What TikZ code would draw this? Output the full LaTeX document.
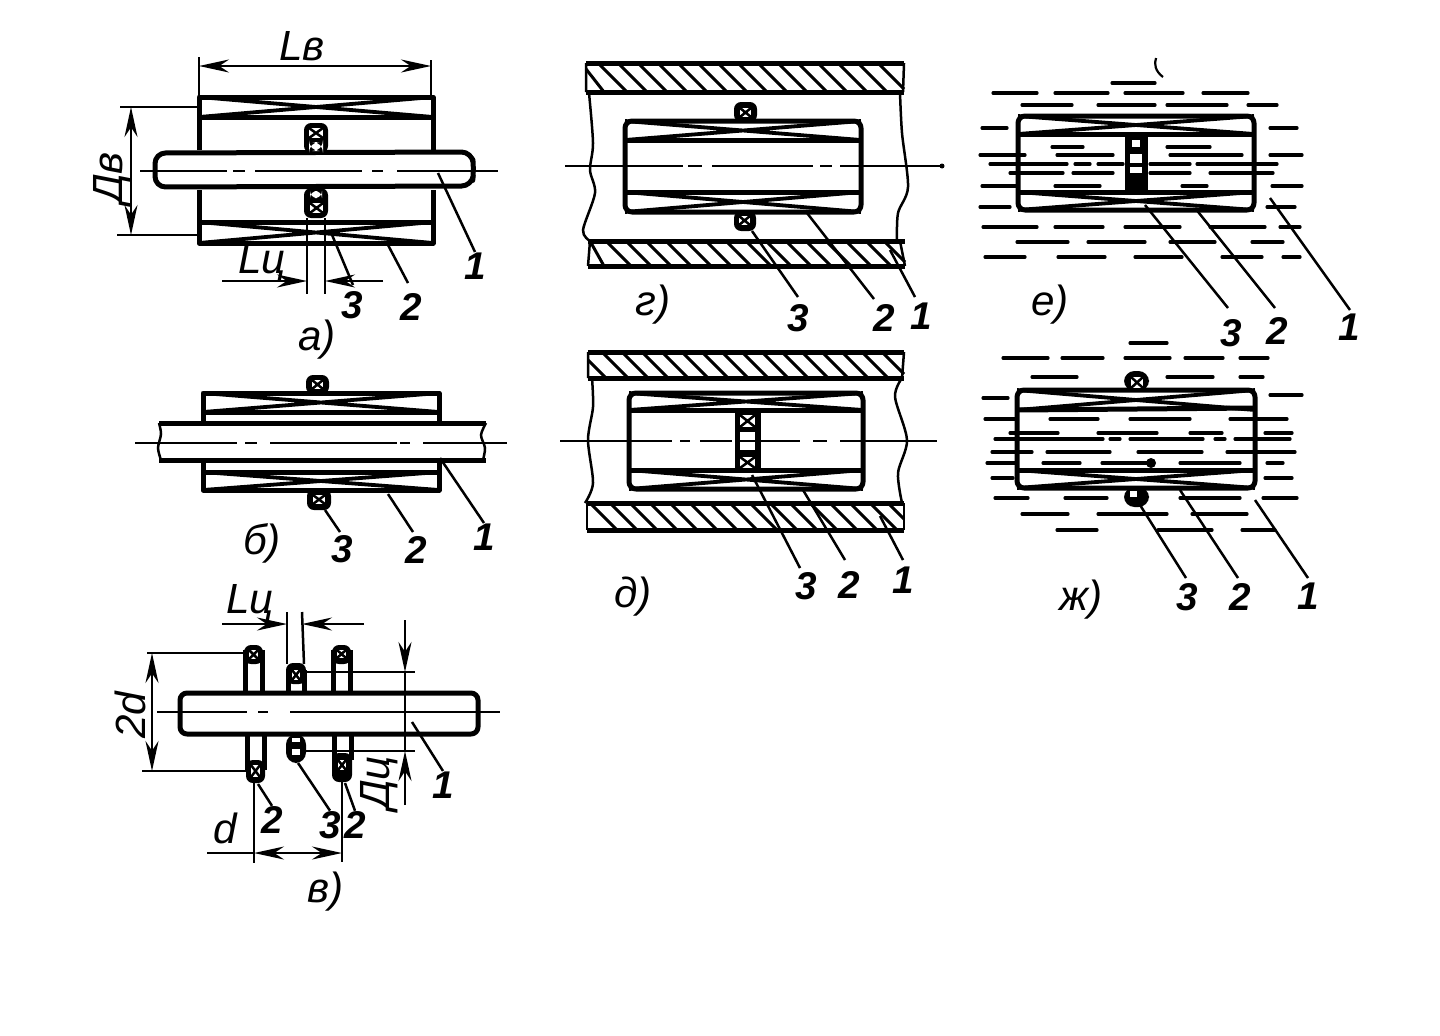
\documentclass[tikz,border=0pt]{standalone}
\usepackage{fontspec}
\setmainfont{Liberation Sans}
\usetikzlibrary{arrows.meta}

\begin{document}
\begin{tikzpicture}[x=0.1mm,y=-0.1mm]
\tikzstyle{every node}+=[inner sep=0pt]
\tikzstyle{wall}=[black,line width=0.5mm,line join=round]
\tikzstyle{coil}=[black,line width=0.38mm]
\tikzstyle{fine}=[black,line width=0.25mm]
\tikzstyle{axis}=[black,line width=0.22mm]
\tikzstyle{fluid}=[black,line width=0.32mm,line cap=round]
\tikzstyle{hatch}=[black,line width=0.3mm]
\tikzstyle{dim}=[black,line width=0.25mm,>={Stealth[length=3mm,width=1.3mm]}]
\tikzstyle{lab}=[font=\fontsize{11}{11}\selectfont\bfseries\itshape]
\tikzstyle{size}=[font=\fontsize{12}{12}\selectfont\itshape]
\tikzstyle{captn}=[font=\fontsize{12}{12}\selectfont\itshape]
\useasboundingbox (0,0) rectangle (1440,1035);
\fill [white] (0,0) rectangle (1440,1035);
% a
\draw [wall] (199,190) -- (199,243) -- (433,243) -- (433,190);
\draw [wall] (199,150) -- (199,97) -- (433,97) -- (433,150);
\draw [wall] (199,117) -- (433,117);
\draw [wall] (199,222) -- (433,222);
\draw [coil] (199,97) -- (433,117) (199,117) -- (433,97);
\draw [coil] (199,222) -- (433,243) (199,243) -- (433,222);
\draw [wall,rounded corners=3] (155,153) -- (472,152) -- (474,170) -- (472,186) -- (155,187) -- cycle;
\draw [axis] (140,171) -- (227,171) (233,171) -- (245,171) (255,171) -- (362,171) (372,171) -- (383,171) (397,171) -- (498,171);
\fill [black,rounded corners=2] (304,123) rectangle (328,153);
\fill [white] (309,128) rectangle (323,138);
\draw [fine] (309,128) -- (323,138) (309,138) -- (323,128);
\fill [white,rounded corners=3] (309,142) rectangle (323,151);
\fill [black,rounded corners=2] (304,188) rectangle (328,218);
\fill [white,rounded corners=2] (310,191) rectangle (322,198);
\fill [white] (310,203) rectangle (323,213);
\draw [fine] (310,203) -- (323,213) (310,213) -- (323,203);
\draw [fine] (199,57) -- (199,97);
\draw [fine] (431,60) -- (431,97);
\draw [dim,<->] (199,66) -- (431,66);
\node [size] (lbdim) at (302,46) {Lв};
\draw [fine] (120,107) -- (197,107);
\draw [fine] (117,235) -- (197,235);
\draw [dim,<->] (131,107) -- (131,235);
\node [size,rotate=90] (dbdim) at (112,178) {Дв};
\draw [fine] (307,218) -- (307,294);
\draw [fine] (325,218) -- (325,294);
\draw [dim,->] (222,281) -- (307,281);
\draw [dim,->] (383,281) -- (325,281);
\node [size] (lcdim) at (262,263) {Lц};
\node [lab] (a1) at (475,266) {1};
\node [lab] (a2) at (411,307) {2};
\node [lab] (a3) at (352,305) {3};
\node [captn] (acap) at (317,340) {а)};
\draw [fine] (438,173) -- (a1.north);
\draw [fine] (388,245) -- (408,283);
\draw [fine] (330,230) -- (353,285);
% b
\draw [wall] (203,423) -- (203,393) -- (439,393) -- (439,423);
\draw [wall] (203,460) -- (203,490) -- (439,490) -- (439,460);
\draw [wall] (203,412) -- (439,412);
\draw [wall] (203,472) -- (439,472);
\draw [coil] (203,393) -- (439,412) (203,412) -- (439,393);
\draw [coil] (203,472) -- (439,490) (203,490) -- (439,472);
\draw [wall] (159,423) -- (486,423);
\draw [wall] (159,460) -- (486,460);
\draw [fine] plot [smooth] coordinates {(159,423) (161,434) (158,448) (161,460)};
\draw [fine] plot [smooth] coordinates {(486,423) (481,435) (485,448) (483,460)};
\draw [axis] (135,443) -- (237,443) (245,443) -- (257,443) (270,443) -- (397,443) (400,443) -- (410,443) (423,443) -- (507,443);
\fill [black,rounded corners=2] (306,375) rectangle (329,394);
\fill [white] (312,380) rectangle (323,389);
\draw [fine] (312,380) -- (323,389) (312,389) -- (323,380);
\fill [black,rounded corners=2] (307,489) rectangle (331,510);
\fill [white] (313,495) rectangle (325,504);
\draw [fine] (313,495) -- (325,504) (313,504) -- (325,495);
\node [lab] (b1) at (484,537) {1};
\node [lab] (b2) at (416,550) {2};
\node [lab] (b3) at (342,549) {3};
\node [captn] (bcap) at (262,543) {б)};
\draw [fine] (440,458) -- (b1.north);
\draw [fine] (388,494) -- (413,532);
\draw [fine] (325,510) -- (340,532);
% c
\draw [wall,rounded corners=2] (180,693) rectangle (478,734);
\draw [axis] (157,712) -- (247,712) (258,712) -- (268,712) (290,712) -- (500,712);
\draw [wall] (245,693) -- (245,650) (262,693) -- (262,650);
\fill [black,rounded corners=2] (244,645) rectangle (263,664);
\fill [white] (249,650) rectangle (258,659);
\draw [fine] (249,650) -- (258,659) (249,659) -- (258,650);
\draw [wall] (247,734) -- (247,770) (264,734) -- (264,770);
\fill [black,rounded corners=2] (246,760) rectangle (265,783);
\fill [white] (251,765) rectangle (260,777);
\draw [fine] (251,765) -- (260,777) (251,777) -- (260,765);
\draw [wall] (288,693) -- (288,670) (304,693) -- (304,670);
\fill [black,rounded corners=2] (286,663) rectangle (306,684);
\fill [white] (292,670) rectangle (300,680);
\draw [fine] (292,670) -- (300,680) (292,680) -- (300,670);
\fill [black,rounded corners=3] (286,734) rectangle (306,763);
\fill [white] (292,738) rectangle (300,742);
\fill [white] (292,749) rectangle (300,755);
\draw [wall] (333,693) -- (333,650) (350,693) -- (350,650);
\fill [black,rounded corners=2] (332,645) rectangle (351,664);
\fill [white] (337,650) rectangle (346,658);
\draw [fine] (337,650) -- (346,658) (337,658) -- (346,650);
\draw [wall] (334,734) -- (334,760) (351,734) -- (351,760);
\fill [black,rounded corners=2] (332,753) rectangle (352,782);
\fill [white] (338,760) rectangle (346,770);
\draw [fine] (338,760) -- (346,770) (338,770) -- (346,760);
\draw [fine] (147,653) -- (245,653);
\draw [fine] (142,771) -- (247,771);
\draw [dim,<->] (152,653) -- (152,771);
\node [size,rotate=90] (twod) at (130,715) {2d};
\draw [fine] (287,612) -- (287,664);
\draw [fine] (302,612) -- (304,664);
\draw [dim,->] (222,624) -- (287,624);
\draw [dim,->] (364,624) -- (302,624);
\node [size] (lcdimc) at (250,603) {Lц};
\draw [fine] (304,672) -- (415,672);
\draw [fine] (304,751) -- (415,751);
\draw [dim,->] (405,620) -- (405,672);
\draw [dim] (405,672) -- (405,751);
\draw [dim,->] (405,805) -- (405,751);
\node [size,rotate=90] (dcdim) at (379,783) {Дц};
\draw [fine] (254,783) -- (254,863);
\draw [fine] (342,782) -- (342,862);
\draw [dim,<->] (254,853) -- (342,853);
\draw [dim] (207,853) -- (254,853);
\node [size] (dd) at (225,828) {d};
\node [lab] (c1) at (443,785) {1};
\node [lab] (c2) at (272,820) {2};
\node [lab] (c3) at (330,825) {3};
\node [lab] (c4) at (355,825) {2};
\node [captn] (ccap) at (326,892) {в)};
\draw [fine] (412,722) -- (c1.north);
\draw [fine] (258,784) -- (c2.north);
\draw [fine] (298,763) -- (c3.north);
\draw [fine] (345,783) -- (c4.north);
% d
\draw [wall] (586,63) -- (904,63);
\draw [wall] (586,92) -- (904,92);
\draw [wall] (588,241) -- (905,241);
\draw [wall] (588,266) -- (905,266);
\draw [fine] (586,63) -- (586,92) (904,63) -- (903,92);
\draw [fine] (590,241) -- (588,266) (900,241) -- (905,266);
\draw [hatch] (586,69) -- (604,92) (598,63) -- (627,92) (618,63) -- (647,92) (638,63) -- (667,92) (658,63) -- (687,92) (678,63) -- (707,92) (698,63) -- (727,92) (718,63) -- (747,92) (738,63) -- (767,92) (758,63) -- (787,92) (778,63) -- (807,92) (798,63) -- (827,92) (818,63) -- (847,92) (838,63) -- (867,92) (858,63) -- (887,92) (878,63) -- (904,89);
\draw [hatch] (590,241) -- (604,266) (606,241) -- (631,266) (626,241) -- (651,266) (646,241) -- (671,266) (666,241) -- (691,266) (686,241) -- (711,266) (706,241) -- (731,266) (726,241) -- (751,266) (746,241) -- (771,266) (766,241) -- (791,266) (786,241) -- (811,266) (806,241) -- (831,266) (826,241) -- (851,266) (846,241) -- (871,266) (866,241) -- (891,266) (884,241) -- (905,262);
\draw [fine] plot [smooth] coordinates {(589,93) (593,143) (590,170) (595,193) (583,230) (590,241)};
\draw [fine] plot [smooth] coordinates {(900,93) (902,133) (908,187) (898,213) (897,241)};
\draw [wall,rounded corners=2] (625,121) rectangle (861,212);
\draw [wall] (625,140) -- (861,140);
\draw [wall] (625,192) -- (861,192);
\draw [coil] (625,121) -- (861,140) (625,140) -- (861,121);
\draw [coil] (625,192) -- (861,212) (625,212) -- (861,192);
\draw [axis] (565,166) -- (683,166) (688,166) -- (702,166) (712,166) -- (813,166) (820,166) -- (832,166) (840,166) -- (942,166);
\fill [black] (942,166) circle (2.5);
\fill [black,rounded corners=2] (734,102) rectangle (757,122);
\fill [white] (740,108) rectangle (751,117);
\draw [fine] (740,108) -- (751,117) (740,117) -- (751,108);
\fill [black,rounded corners=2] (734,211) rectangle (756,231);
\fill [white] (739,216) rectangle (750,225);
\draw [fine] (739,216) -- (750,225) (739,225) -- (750,216);
\node [lab] (d1) at (921,316) {1};
\node [lab] (d2) at (884,318) {2};
\node [lab] (d3) at (798,318) {3};
\node [captn] (dcap) at (653,305) {г)};
\draw [fine] (890,250) -- (915,297);
\draw [fine] (807,213) -- (874,299);
\draw [fine] (752,231) -- (798,297);
% e
\draw [wall] (588,352) -- (904,352);
\draw [wall] (588,378) -- (904,378);
\draw [wall] (587,503) -- (904,503);
\draw [wall] (587,530) -- (904,530);
\draw [fine] (588,352) -- (588,378) (904,352) -- (902,378);
\draw [fine] (587,503) -- (587,530) (904,503) -- (904,530);
\draw [hatch] (588,360) -- (606,378) (602,352) -- (628,378) (622,352) -- (648,378) (642,352) -- (668,378) (662,352) -- (688,378) (682,352) -- (708,378) (702,352) -- (728,378) (722,352) -- (748,378) (742,352) -- (768,378) (762,352) -- (788,378) (782,352) -- (808,378) (802,352) -- (828,378) (822,352) -- (848,378) (842,352) -- (868,378) (862,352) -- (888,378) (882,352) -- (904,374);
\draw [hatch] (590,503) -- (617,530) (610,503) -- (637,530) (630,503) -- (657,530) (650,503) -- (677,530) (670,503) -- (697,530) (690,503) -- (717,530) (710,503) -- (737,530) (730,503) -- (757,530) (750,503) -- (777,530) (770,503) -- (797,530) (790,503) -- (817,530) (810,503) -- (837,530) (830,503) -- (857,530) (850,503) -- (877,530) (870,503) -- (897,530) (888,503) -- (904,519);
\draw [fine] plot [smooth] coordinates {(592,378) (593,407) (588,440) (593,483) (585,503)};
\draw [fine] plot [smooth] coordinates {(902,378) (895,397) (907,440) (898,473) (902,503)};
\draw [wall,rounded corners=2] (629,393) rectangle (863,489);
\draw [wall] (629,410) -- (863,410);
\draw [wall] (629,470) -- (863,470);
\draw [coil] (629,393) -- (863,410) (629,410) -- (863,393);
\draw [coil] (629,470) -- (863,489) (629,489) -- (863,470);
\draw [axis] (560,441) -- (672,441) (680,441) -- (690,441) (700,441) -- (732,441) (760,441) -- (800,441) (813,441) -- (827,441) (840,441) -- (937,441);
\fill [black] (735,410) rectangle (761,470);
\fill [white] (740,432) rectangle (755,450);
\fill [white] (740,415) rectangle (755,427);
\draw [fine] (740,415) -- (755,427) (740,427) -- (755,415);
\fill [white] (740,457) rectangle (755,468);
\draw [fine] (740,457) -- (755,468) (740,468) -- (755,457);
\draw [axis] (735,441) -- (761,441);
\node [lab] (e1) at (903,580) {1};
\node [lab] (e2) at (849,585) {2};
\node [lab] (e3) at (806,586) {3};
\node [captn] (ecap) at (633,597) {д)};
\draw [fine] (880,516) -- (903,560);
\draw [fine] (803,490) -- (845,560);
\draw [fine] (752,475) -- (800,568);
% f
\draw [wall,rounded corners=2] (1018,116) rectangle (1254,210);
\draw [wall] (1018,134) -- (1254,134);
\draw [wall] (1018,192) -- (1254,192);
\draw [coil] (1018,116) -- (1254,134) (1018,134) -- (1254,116);
\draw [coil] (1018,192) -- (1254,210) (1018,210) -- (1254,192);
\fill [black] (1125,134) rectangle (1148,192);
\fill [white] (1130,154) rectangle (1142,163);
\fill [white] (1130,167) rectangle (1142,173);
\fill [white] (1132,140) rectangle (1140,147);
\draw [fluid] (1112,83) -- (1155,83);
\draw [fluid] (993,93) -- (1037,93) (1055,93) -- (1108,93) (1125,93) -- (1183,93) (1203,93) -- (1248,93);
\draw [fluid] (1022,105) -- (1072,105) (1098,105) -- (1155,105) (1167,105) -- (1227,105) (1248,105) -- (1277,105);
\draw [fluid] (982,128) -- (1007,128) (1270,128) -- (1297,128);
\draw [fluid] (1052,147) -- (1083,147) (1167,147) -- (1210,147);
\draw [fluid] (980,155) -- (1025,155) (1057,155) -- (1113,155) (1170,155) -- (1242,155) (1270,155) -- (1302,155);
\draw [fluid] (990,164) -- (1067,164) (1075,164) -- (1090,164) (1098,164) -- (1123,164) (1150,164) -- (1190,164) (1197,164) -- (1277,164);
\draw [fluid] (1010,173) -- (1063,173) (1073,173) -- (1113,173) (1150,173) -- (1190,173) (1210,173) -- (1273,173);
\draw [fluid] (982,186) -- (1017,186) (1055,186) -- (1100,186) (1182,186) -- (1207,186) (1272,186) -- (1302,186);
\draw [fluid] (980,207) -- (1010,207) (1267,207) -- (1295,207);
\draw [fluid] (983,227) -- (1037,227) (1055,227) -- (1103,227) (1125,227) -- (1180,227) (1210,227) -- (1265,227) (1280,227) -- (1300,227);
\draw [fluid] (1017,242) -- (1068,242) (1088,242) -- (1145,242) (1170,242) -- (1215,242) (1252,242) -- (1283,242);
\draw [fluid] (985,257) -- (1025,257) (1058,257) -- (1105,257) (1135,257) -- (1182,257) (1222,257) -- (1262,257) (1283,257) -- (1300,257);
\draw [fluid] (1130,343) -- (1167,343);
\draw [axis] (1163,77) .. controls (1155,71) and (1154,64) .. (1156,58);
\node [lab] (f1) at (1349,327) {1};
\node [lab] (f2) at (1277,331) {2};
\node [lab] (f3) at (1231,333) {3};
\node [captn] (fcap) at (1050,305) {е)};
\draw [fine] (1270,198) -- (1350,310);
\draw [fine] (1195,208) -- (1275,308);
\draw [fine] (1145,205) -- (1228,308);
% g
\draw [wall,rounded corners=2] (1017,390) rectangle (1255,488);
\draw [wall] (1017,410) -- (1255,408);
\draw [wall] (1017,470) -- (1255,470);
\draw [coil] (1017,390) -- (1255,410) (1017,410) -- (1255,390);
\draw [coil] (1017,470) -- (1255,488) (1017,488) -- (1255,470);
\fill [black,rounded corners=3] (1124,371) rectangle (1149,391);
\fill [white] (1131,377) rectangle (1143,388);
\draw [fine] (1131,377) -- (1143,388) (1131,388) -- (1143,377);
\fill [black,rounded corners=3] (1124,487) rectangle (1149,507);
\fill [white] (1130,491) rectangle (1137,497);
\fill [black] (1151,463) circle (5);
\draw [fluid] (1003,358) -- (1048,358) (1062,358) -- (1103,358) (1125,358) -- (1170,358) (1185,358) -- (1223,358) (1240,358) -- (1268,358);
\draw [fluid] (1032,377) -- (1077,377) (1167,377) -- (1213,377) (1240,377) -- (1263,377);
\draw [fluid] (1270,395) -- (1302,395) (983,398) -- (1008,398);
\draw [fluid] (985,419) -- (1017,419) (1050,419) -- (1098,419) (1130,419) -- (1190,419) (1230,419) -- (1287,419);
\draw [fluid] (1010,433) -- (1058,433) (1098,433) -- (1157,433) (1190,433) -- (1222,433) (1265,433) -- (1292,433);
\draw [fluid] (995,439) -- (1103,439) (1110,439) -- (1120,439) (1130,439) -- (1203,439) (1215,439) -- (1225,439) (1235,439) -- (1290,439);
\draw [fluid] (992,452) -- (1032,452) (1047,452) -- (1110,452) (1138,452) -- (1202,452) (1227,452) -- (1295,452);
\draw [fluid] (987,463) -- (1015,463) (1043,463) -- (1080,463) (1102,463) -- (1147,463) (1180,463) -- (1240,463) (1267,463) -- (1283,463);
\draw [fluid] (992,478) -- (1013,478) (1265,478) -- (1292,478);
\draw [fluid] (995,498) -- (1028,498) (1065,498) -- (1107,498) (1180,498) -- (1240,498) (1263,498) -- (1297,498);
\draw [fluid] (1022,514) -- (1068,514) (1098,514) -- (1167,514) (1192,514) -- (1247,514);
\draw [fluid] (1057,530) -- (1097,530) (1158,530) -- (1212,530) (1242,530) -- (1275,530);
\node [lab] (g1) at (1308,596) {1};
\node [lab] (g2) at (1240,597) {2};
\node [lab] (g3) at (1187,597) {3};
\node [captn] (gcap) at (1081,600) {ж)};
\draw [fine] (1255,500) -- (1308,578);
\draw [fine] (1180,490) -- (1238,578);
\draw [fine] (1140,505) -- (1186,578);
\end{tikzpicture}
\end{document}
